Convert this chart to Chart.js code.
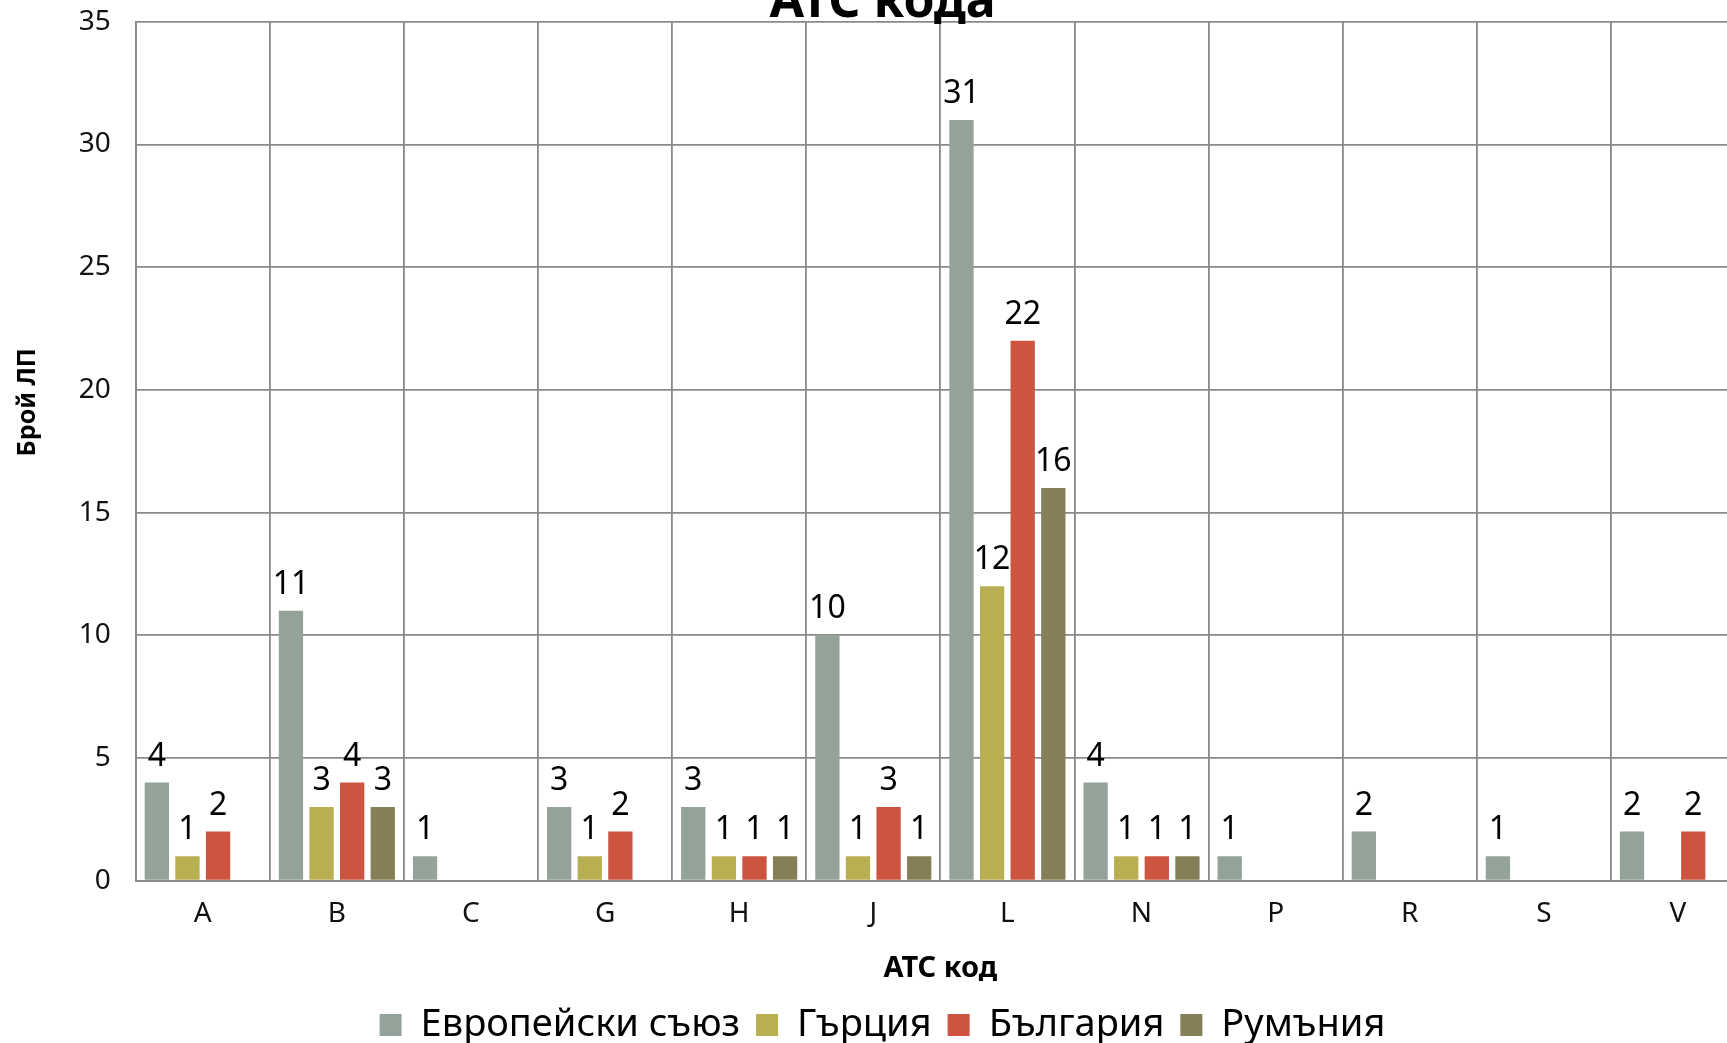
<!DOCTYPE html>
<html lang="bg">
<head>
<meta charset="UTF-8">
<title>АТС кода</title>
<script src="https://cdn.jsdelivr.net/npm/chart.js@4.4.0/dist/chart.umd.min.js"></script>
<style>
  html, body {margin:0; padding:0; overflow:hidden; background:#fff;}
  body {width:1727px; height:1043px; position:relative;}
  /* canvas is a bit bigger than the window: title top and right edge get cut like in the original */
  #wrap {position:absolute; left:0; top:-20px; width:1748px; height:1074px;}
</style>
</head>
<body>
<div id="wrap"><canvas id="atcChart"></canvas></div>
<script>
// data
const atcCodes = ['A', 'B', 'C', 'G', 'H', 'J', 'L', 'N', 'P', 'R', 'S', 'V'];
const euValues       = [4, 11, 1, 3, 3, 10, 31, 4, 1, 2, 1, 2];
const greeceValues   = [1, 3, null, 1, 1, 1, 12, 1, null, null, null, null];
const bulgariaValues = [2, 4, null, 2, 1, 3, 22, 1, null, null, null, 2];
const romaniaValues  = [null, 3, null, null, 1, 1, 16, 1, null, null, null, null];
const yMax = 35;
const yStep = 5;

const FONT = "'Noto Sans', sans-serif";
const GRID = '#8a8a8a';
Chart.defaults.font.family = FONT;
Chart.defaults.color = '#000';

// value labels above each bar
const barLabels = {
  id: 'barLabels',
  afterDatasetsDraw(chart) {
    const ctx = chart.ctx;
    ctx.save();
    ctx.font = '32px ' + FONT;
    ctx.fillStyle = '#000';
    ctx.textAlign = 'center';
    ctx.textBaseline = 'alphabetic';
    chart.data.datasets.forEach((ds, i) => {
      chart.getDatasetMeta(i).data.forEach((bar, j) => {
        const v = ds.data[j];
        if (v === null) return;
        ctx.fillText(v, bar.x, bar.y - 17);
      });
    });
    ctx.restore();
  }
};

// y axis title sits above the middle in the original, so draw it by hand
const yTitle = {
  id: 'yTitle',
  afterDraw(chart) {
    const {ctx, chartArea} = chart;
    ctx.save();
    ctx.translate(28, chartArea.top + (chartArea.bottom - chartArea.top) * 0.443);
    ctx.rotate(-Math.PI / 2);
    ctx.font = 'bold 25px ' + FONT;
    ctx.fillStyle = '#000';
    ctx.textAlign = 'center';
    ctx.textBaseline = 'middle';
    ctx.fillText('Брой ЛП', 0, 0);
    ctx.restore();
  }
};

new Chart(document.getElementById('atcChart'), {
  type: 'bar',
  data: {
    labels: atcCodes,
    datasets: [
      {label: 'Европейски съюз', data: euValues, backgroundColor: '#94a39a'},
      {label: 'Гърция', data: greeceValues, backgroundColor: '#b8ae52'},
      {label: 'България', data: bulgariaValues, backgroundColor: '#cd5440'},
      {label: 'Румъния', data: romaniaValues, backgroundColor: '#847f57'}
    ]
  },
  options: {
    responsive: true,
    maintainAspectRatio: false,
    animation: false,
    datasets: {bar: {categoryPercentage: 0.913, barPercentage: 0.794}},
    layout: {padding: {left: 20, right: 3, top: 0, bottom: 0}},
    plugins: {
      title: {
        display: true,
        text: 'АТС кода',
        font: {size: 50, weight: 'bold', lineHeight: 0.77},
        color: '#000',
        padding: {top: 2.5, bottom: 0}
      },
      legend: {
        position: 'bottom',
        labels: {
          font: {size: 38},
          color: '#000',
          boxWidth: 22,
          boxHeight: 22,
          padding: 16
        }
      },
      tooltip: {enabled: false}
    },
    scales: {
      x: {
        grid: {color: GRID, lineWidth: 1.8, drawTicks: false},
        border: {color: GRID, width: 1.8},
        ticks: {font: {size: 28}, color: '#111', padding: 16.5},
        title: {
          display: true,
          text: 'АТС код',
          font: {size: 29, weight: 'bold'},
          color: '#000',
          padding: {top: 4.3, bottom: 3.6}
        }
      },
      y: {
        min: 0,
        max: yMax,
        afterFit(scale) { scale.width = 115.7; },
        grid: {color: GRID, lineWidth: 1.8, drawTicks: false},
        border: {color: GRID, width: 1.8},
        ticks: {stepSize: yStep, font: {size: 28}, color: '#111', padding: 25}
      }
    }
  },
  plugins: [barLabels, yTitle]
});
</script>
</body>
</html>
